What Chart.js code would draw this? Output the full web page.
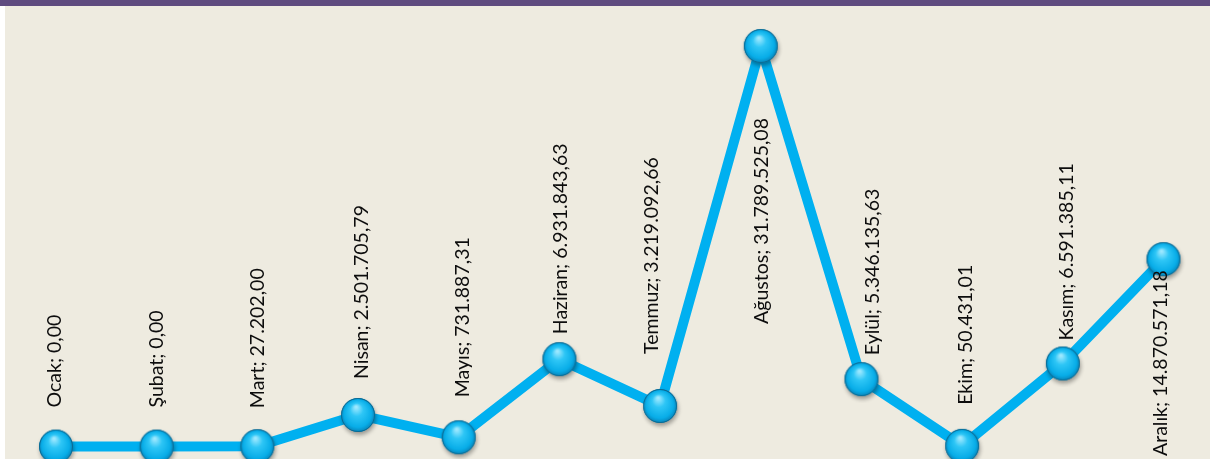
<!DOCTYPE html>
<html>
<head>
<meta charset="utf-8">
<script src="https://cdn.jsdelivr.net/npm/chart.js@4/dist/chart.umd.min.js"></script>
<style>
  html, body { margin: 0; padding: 0; background: #ffffff; overflow: hidden; }
  #topBar { position: absolute; left: 0; top: 0; width: 1210px; height: 6px; background: #5f4b7f; }
  #panel { position: absolute; left: 5px; top: 6px; width: 1205px; height: 453px; background: #eeebe0; }
  #chart { display: block; }
</style>
</head>
<body>
<div id="topBar"></div>
<div id="panel"><canvas id="chart" width="1205" height="453"></canvas></div>
<script>
// ===========================
// Data — aylık tutarlar
// ===========================
const months  = ['Ocak', 'Şubat', 'Mart', 'Nisan', 'Mayıs', 'Haziran', 'Temmuz', 'Ağustos', 'Eylül', 'Ekim', 'Kasım', 'Aralık'];
const amounts = [0, 0, 27202.00, 2501705.79, 731887.31, 6931843.63, 3219092.66, 31789525.08, 5346135.63, 50431.01, 6591385.11, 14870571.18];

// label placement (distance from marker centre; negative = below the marker)
const labelGap = [39, 39, 38, 36, 40, 25, 52, -72, 24, 41, 23, -11];
const labelDx  = [-1, 0, 0, 4, 4, 1, -8, 1, 11, 4, 4, -3];

// Turkish number format: 31.789.525,08
function formatTR(v) {
  const parts = v.toFixed(2).split('.');
  const int = parts[0].replace(/\B(?=(\d{3})+(?!\d))/g, '.');
  return int + ',' + parts[1];
}

// ===========================
// Glossy marker
// ===========================
function makeMarker() {
  const r = 17, size = 48;
  const c = document.createElement('canvas');
  c.width = size; c.height = size;
  const g = c.getContext('2d');
  const cx = size / 2, cy = size / 2;

  g.save();
  g.shadowColor = 'rgba(0,0,0,0.35)';
  g.shadowBlur = 4;
  g.shadowOffsetX = 1;
  g.shadowOffsetY = 3;
  g.beginPath();
  g.arc(cx, cy, r, 0, Math.PI * 2);
  g.fillStyle = '#0a83b8';
  g.fill();
  g.restore();

  const grad = g.createRadialGradient(cx - 2, cy - 8, 1, cx, cy, r);
  grad.addColorStop(0, '#9be8ff');
  grad.addColorStop(0.35, '#2ec6f6');
  grad.addColorStop(0.8, '#08ade8');
  grad.addColorStop(1, '#0784ba');
  g.beginPath();
  g.arc(cx, cy, r - 0.5, 0, Math.PI * 2);
  g.fillStyle = grad;
  g.fill();
  g.lineWidth = 1;
  g.strokeStyle = '#0b6a92';
  g.stroke();
  return c;
}

// ===========================
// Rotated data labels
// ===========================
const rotatedLabels = {
  id: 'rotatedLabels',
  afterDatasetsDraw(chart) {
    const ctx = chart.ctx;
    const meta = chart.getDatasetMeta(0);
    ctx.save();
    ctx.font = '19.5px Lato, "Open Sans", sans-serif';
    ctx.fillStyle = '#0d0d0d';
    ctx.textBaseline = 'middle';
    meta.data.forEach((pt, i) => {
      const text = months[i] + '; ' + formatTR(amounts[i]);
      const gap = labelGap[i];
      ctx.save();
      ctx.translate(pt.x + labelDx[i], pt.y - gap);
      ctx.rotate(-Math.PI / 2);
      ctx.textAlign = gap >= 0 ? 'left' : 'right';
      ctx.fillText(text, 0, 0);
      ctx.restore();
    });
    ctx.restore();
  }
};

const marker = makeMarker();

new Chart(document.getElementById('chart').getContext('2d'), {
  type: 'line',
  data: {
    labels: months,
    datasets: [{
      data: amounts,
      borderColor: '#00b0f0',
      borderWidth: 10,
      borderJoinStyle: 'round',
      pointStyle: marker,
      pointRadius: 17,
      pointHoverRadius: 17,
      tension: 0,
      fill: false,
      clip: false,
    }]
  },
  options: {
    responsive: false,
    animation: false,
    events: [],
    layout: { autoPadding: false, padding: { left: 51, right: 46.5, top: 0, bottom: 0 } },
    plugins: {
      legend: { display: false },
      tooltip: { enabled: false },
    },
    scales: {
      x: { display: false, offset: false },
      y: { display: false, min: -992000, max: 34965000 }
    }
  },
  plugins: [rotatedLabels]
});
</script>
</body>
</html>
